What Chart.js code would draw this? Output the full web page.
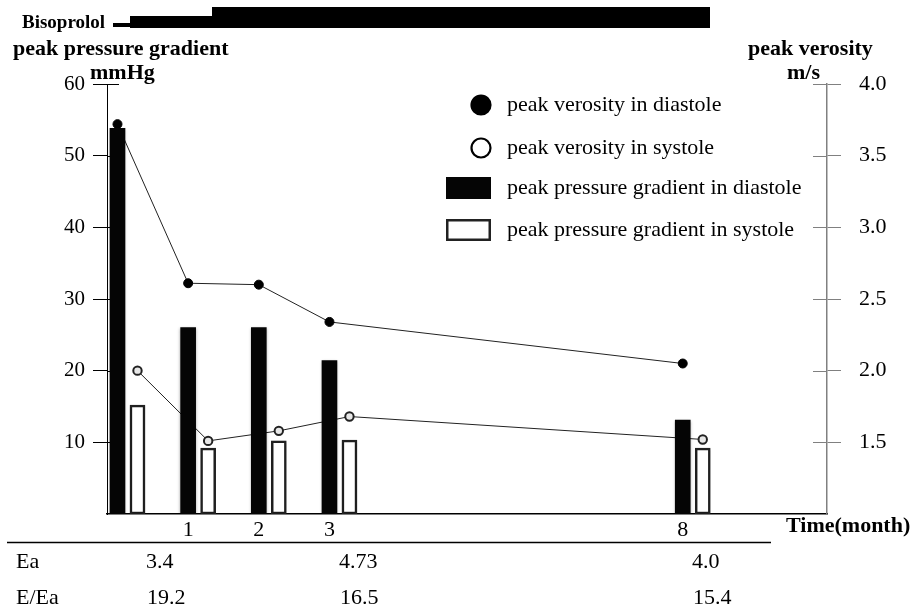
<!DOCTYPE html>
<html>
<head>
<meta charset="utf-8">
<script src="https://cdn.jsdelivr.net/npm/chart.js@4.4.0/dist/chart.umd.min.js"></script>
<style>
  html, body { margin: 0; padding: 0; background: #fff; }
  #wrap { width: 915px; height: 613px; position: relative; }
</style>
</head>
<body>
<div id="wrap"><canvas id="chart"></canvas></div>
<script>
// data
const months = [0, 1, 2, 3, 8];
const monthTicks = [1, 2, 3, 8];
const gradientDiastole = [53.8, 26.0, 26.0, 21.4, 13.1];
const gradientSystole = [15.2, 9.2, 10.2, 10.3, 9.2];
const velocityDiastole = [3.72, 2.61, 2.60, 2.34, 2.05];
const velocitySystole = [2.00, 1.51, 1.58, 1.68, 1.52];
const leftTicks = [10, 20, 30, 40, 50, 60];
const rightTicks = [1.5, 2.0, 2.5, 3.0, 3.5, 4.0];
const tableRows = ['Ea', 'E/Ea'];
const eaValues = ['3.4', '4.73', '4.0'];
const eEaValues = ['19.2', '16.5', '15.4'];

const SERIF = '"Liberation Serif", "Times New Roman", serif';
Chart.defaults.font.family = SERIF;
Chart.defaults.color = '#000';

// x range chosen so the uneven month spacing of the original fits a linear scale
const X_MIN = -0.29, X_MAX = 9.9;
const PLOT_W = 720;
const shift = 10 * (X_MAX - X_MIN) / PLOT_W; // half the bar pair spacing, in months

const pts = (ys) => months.map((m, i) => ({ x: m, y: ys[i] }));

// tick marks that also reach into the plot
const innerTicks = {
  id: 'innerTicks',
  beforeDatasetsDraw(chart) {
    const ctx = chart.ctx;
    const yl = chart.scales.y, yr = chart.scales.yR;
    ctx.save();
    ctx.lineWidth = 1;
    ctx.strokeStyle = '#000';
    leftTicks.forEach(v => {
      const p = Math.round(yl.getPixelForValue(v)) + 0.5;
      ctx.beginPath(); ctx.moveTo(yl.right, p); ctx.lineTo(yl.right + 12, p); ctx.stroke();
    });
    ctx.strokeStyle = '#808080';
    rightTicks.forEach(v => {
      const p = Math.round(yr.getPixelForValue(v)) + 0.5;
      ctx.beginPath(); ctx.moveTo(yr.left - 14, p); ctx.lineTo(yr.left, p); ctx.stroke();
    });
    ctx.restore();
  }
};

// soft shadow under the bars
const barShadow = {
  id: 'barShadow',
  beforeDatasetDraw(chart, args) {
    if (args.meta.type !== 'bar') return;
    const ctx = chart.ctx;
    ctx.save();
    ctx.shadowColor = 'rgba(0,0,0,0.35)';
    ctx.shadowBlur = 3;
    ctx.shadowOffsetY = 1;
  },
  afterDatasetDraw(chart, args) {
    if (args.meta.type !== 'bar') return;
    chart.ctx.restore();
  }
};

// titles, legend and the Ea table
const decorations = {
  id: 'decorations',
  afterDraw(chart) {
    const ctx = chart.ctx;
    const ds = chart.data.datasets;
    ctx.save();
    ctx.fillStyle = '#000';
    ctx.textBaseline = 'middle';
    ctx.textAlign = 'left';

    ctx.font = 'bold 19px ' + SERIF;
    ctx.fillText('Bisoprolol', 22, 23);
    ctx.fillRect(113, 23, 17, 4);
    ctx.fillRect(130, 16, 82, 12);
    ctx.fillRect(212, 7, 498, 21);

    ctx.font = 'bold 22px ' + SERIF;
    ctx.fillText('peak pressure gradient', 13, 49);
    ctx.fillText('mmHg', 90, 73);
    ctx.fillText('peak verosity', 748, 49);
    ctx.fillText('m/s', 787, 73);
    ctx.fillText('Time(month)', 786, 526);

    // legend
    ctx.font = '22px ' + SERIF;
    const rows = [
      { d: ds[2], y: 105 },
      { d: ds[3], y: 148 },
      { d: ds[0], y: 188 },
      { d: ds[1], y: 230 }
    ];
    rows.forEach(r => {
      const d = r.d;
      if (d.type === 'line') {
        ctx.beginPath();
        ctx.arc(481, r.y, 9.5, 0, Math.PI * 2);
        ctx.fillStyle = d.label.includes('diastole') ? '#000' : '#fff';
        ctx.fill();
        ctx.lineWidth = 2.2;
        ctx.strokeStyle = '#000';
        ctx.stroke();
      } else {
        ctx.fillStyle = d.backgroundColor;
        ctx.fillRect(446, r.y - 11, 45, 22);
        if (d.borderWidth) {
          ctx.lineWidth = 2.5;
          ctx.strokeStyle = d.borderColor;
          ctx.strokeRect(447.25, r.y - 9.75, 42.5, 19.5);
        }
      }
      ctx.fillStyle = '#000';
      ctx.fillText(d.label, 507, r.y);
    });

    // table
    ctx.lineWidth = 1.5;
    ctx.strokeStyle = '#000';
    ctx.beginPath(); ctx.moveTo(7, 542.5); ctx.lineTo(771, 542.5); ctx.stroke();
    const colX = [146, 339, 692];
    const rowY = [562, 598];
    ctx.fillText(tableRows[0], 16, rowY[0]);
    ctx.fillText(tableRows[1], 16, rowY[1]);
    eaValues.forEach((v, i) => ctx.fillText(v, colX[i], rowY[0]));
    eEaValues.forEach((v, i) => ctx.fillText(v, colX[i] + 1, rowY[1]));
    ctx.restore();
  }
};

new Chart(document.getElementById('chart'), {
  type: 'bar',
  data: {
    datasets: [
      {
        type: 'bar', label: 'peak pressure gradient in diastole',
        data: pts(gradientDiastole), xAxisID: 'xDia', yAxisID: 'y',
        backgroundColor: '#050505', borderWidth: 0,
        grouped: false, barThickness: 15, order: 1
      },
      {
        type: 'bar', label: 'peak pressure gradient in systole',
        data: pts(gradientSystole), xAxisID: 'xSys', yAxisID: 'y',
        backgroundColor: '#ffffff', borderColor: '#222', borderWidth: 2.5, borderSkipped: false,
        grouped: false, barThickness: 15, order: 1
      },
      {
        type: 'line', label: 'peak verosity in diastole',
        data: pts(velocityDiastole), xAxisID: 'xDia', yAxisID: 'yR',
        borderColor: '#222', borderWidth: 1, backgroundColor: '#000',
        pointRadius: 4.5, pointBackgroundColor: '#000', pointBorderColor: '#000', pointBorderWidth: 1,
        tension: 0, order: 2
      },
      {
        type: 'line', label: 'peak verosity in systole',
        data: pts(velocitySystole), xAxisID: 'xSys', yAxisID: 'yR',
        borderColor: '#222', borderWidth: 1, backgroundColor: '#fff',
        pointRadius: 4.2, pointBackgroundColor: '#e8e8e8', pointBorderColor: '#222', pointBorderWidth: 2,
        tension: 0, order: 2
      }
    ]
  },
  options: {
    responsive: true,
    maintainAspectRatio: false,
    animation: false,
    layout: { padding: { top: 84, left: 0, right: 0, bottom: 0 } },
    plugins: { legend: { display: false }, tooltip: { enabled: false } },
    scales: {
      x: {
        type: 'linear', min: X_MIN, max: X_MAX, offset: false,
        afterBuildTicks: s => { s.ticks = monthTicks.map(v => ({ value: v })); },
        grid: { display: false, offset: false },
        border: { display: true, color: '#000', width: 1.5 },
        ticks: { font: { size: 22 }, color: '#000', padding: -5, labelOffset: -10, maxRotation: 0, autoSkip: false,
                 callback: v => String(v) },
        afterFit: s => { s.height = 99; }
      },
      xDia: { type: 'linear', display: false, offset: false, grid: { offset: false },
              min: X_MIN + shift, max: X_MAX + shift },
      xSys: { type: 'linear', display: false, offset: false, grid: { offset: false },
              min: X_MIN - shift, max: X_MAX - shift },
      y: {
        position: 'left', min: 0, max: 60,
        afterBuildTicks: s => { s.ticks = leftTicks.map(v => ({ value: v })); },
        grid: { drawOnChartArea: false, drawTicks: true, tickLength: 14, color: '#000', lineWidth: 1 },
        border: { display: true, color: '#000', width: 1 },
        ticks: { font: { size: 21 }, color: '#000', padding: 8, callback: v => String(v) },
        afterFit: s => { s.width = 107; }
      },
      yR: {
        position: 'right', min: 1, max: 4,
        afterBuildTicks: s => { s.ticks = rightTicks.map(v => ({ value: v })); },
        grid: { drawOnChartArea: false, drawTicks: true, tickLength: 14, color: '#808080', lineWidth: 1 },
        border: { display: true, color: '#808080', width: 1.5 },
        ticks: { font: { size: 22 }, color: '#000', padding: 18, callback: v => v.toFixed(1) },
        afterFit: s => { s.width = 88; }
      }
    }
  },
  plugins: [innerTicks, barShadow, decorations]
});
</script>
</body>
</html>
